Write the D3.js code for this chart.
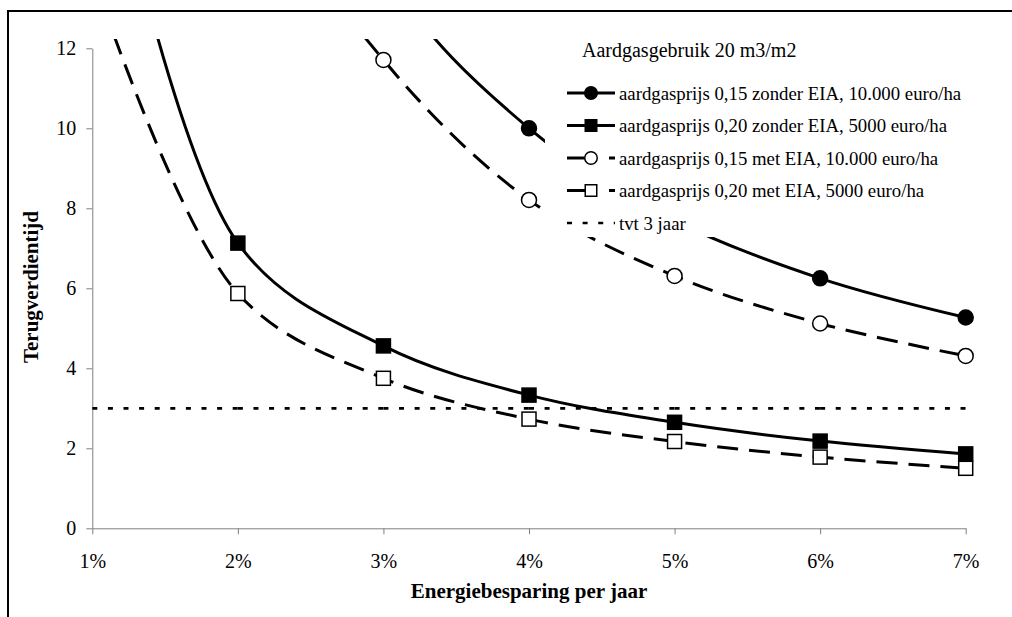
<!DOCTYPE html>
<html>
<head>
<meta charset="utf-8">
<script src="https://cdnjs.cloudflare.com/ajax/libs/d3/7.8.5/d3.min.js"></script>
<style>
body{margin:0;background:#fff;}
svg{display:block;}
svg text{font-family:"Liberation Serif","Times New Roman",serif;}
</style>
</head>
<body>
<div id="chart"></div>
<script>
// gegevens
var categories = ["1%","2%","3%","4%","5%","6%","7%"];
var yTicks = [0,2,4,6,8,10,12];
var gas015zonder = [60, 24, 14.0, 10.0, 7.7, 6.25, 5.27];
var gas020zonder = [19.0, 7.13, 4.56, 3.33, 2.65, 2.18, 1.86];
var gas015met = [30, 17.2, 11.71, 8.21, 6.31, 5.12, 4.31];
var gas020met = [13.85, 5.87, 3.75, 2.73, 2.17, 1.78, 1.50];
var tvt3 = [3, 3, 3, 3, 3, 3, 3];
var legendTitle = "Aardgasgebruik 20 m3/m2";
var seriesNames = [
  "aardgasprijs 0,15 zonder EIA, 10.000 euro/ha",
  "aardgasprijs 0,20 zonder EIA, 5000 euro/ha",
  "aardgasprijs 0,15 met EIA, 10.000 euro/ha",
  "aardgasprijs 0,20 met EIA, 5000 euro/ha",
  "tvt 3 jaar"
];

var width = 1012, height = 617;
var margin = {top: 48.3, right: 46.3, bottom: 88.7, left: 92.3};
var serif = "'Liberation Serif', 'Times New Roman', serif";

var series = [
  {values: gas015zonder, name: seriesNames[0], dash: null, marker: "circle", filled: true},
  {values: gas020zonder, name: seriesNames[1], dash: null, marker: "square", filled: true},
  {values: gas015met, name: seriesNames[2], dash: "21,11", marker: "circle", filled: false},
  {values: gas020met, name: seriesNames[3], dash: "21,11", marker: "square", filled: false}
];

var svg = d3.select("#chart").append("svg")
    .attr("width", width)
    .attr("height", height);

// kader
svg.append("rect")
    .attr("x", 8).attr("y", 11)
    .attr("width", 1100).attr("height", 700)
    .attr("fill", "none")
    .attr("stroke", "#000")
    .attr("stroke-width", 2);

var xScale = d3.scalePoint()
    .domain(categories)
    .range([margin.left, width - margin.right]);

var yScale = d3.scaleLinear()
    .domain([0, 12])
    .range([height - margin.bottom, margin.top]);

// assen
var yAxis = d3.axisLeft(yScale).tickValues(yTicks).tickSize(6).tickSizeOuter(0).tickPadding(10);
var xAxis = d3.axisBottom(xScale).tickSize(6).tickSizeOuter(0).tickPadding(19.5);

var gy = svg.append("g")
    .attr("transform", "translate(" + margin.left + ",0)")
    .call(yAxis);
var gx = svg.append("g")
    .attr("transform", "translate(0," + (height - margin.bottom) + ")")
    .call(xAxis);

[gx, gy].forEach(function(g){
  g.attr("font-family", serif).attr("font-size", 20);
  g.select(".domain").attr("stroke", "#808080");
  g.selectAll(".tick line").attr("stroke", "#808080");
  g.selectAll(".tick text").attr("fill", "#000");
});

svg.append("text")
    .attr("transform", "translate(38," + 287 + ") rotate(-90)")
    .attr("text-anchor", "middle")
    .attr("font-size", 21)
    .attr("font-weight", "bold")
    .text("Terugverdientijd");

svg.append("text")
    .attr("x", (margin.left + width - margin.right) / 2)
    .attr("y", 598)
    .attr("text-anchor", "middle")
    .attr("font-size", 21)
    .attr("font-weight", "bold")
    .text("Energiebesparing per jaar");

// lijnen
svg.append("clipPath").attr("id", "plotclip")
  .append("rect")
    .attr("x", margin.left).attr("y", 39)
    .attr("width", width - margin.left).attr("height", height - margin.bottom - 39);

var line = d3.line()
    .x(function(d, i){ return xScale(categories[i]); })
    .y(function(d){ return yScale(d); })
    .curve(d3.curveCatmullRom.alpha(0.5));

var plot = svg.append("g").attr("clip-path", "url(#plotclip)");

series.forEach(function(s){
  plot.append("path")
    .datum(s.values)
    .attr("d", line)
    .attr("fill", "none")
    .attr("stroke", "#000")
    .attr("stroke-width", 3)
    .attr("stroke-dasharray", s.dash);
});

// tvt 3 jaar, per segment gestippeld
d3.pairs(tvt3.map(function(d, i){ return [xScale(categories[i]), yScale(d)]; }))
  .forEach(function(p){
    svg.append("line")
      .attr("x1", p[0][0]).attr("y1", p[0][1])
      .attr("x2", p[1][0]).attr("y2", p[1][1])
      .attr("stroke", "#000")
      .attr("stroke-width", 2.7)
      .attr("stroke-dasharray", "5,10.6");
  });

function drawMarker(g, type, filled, cx, cy, size){
  if(type === "circle"){
    g.append("circle")
      .attr("cx", cx).attr("cy", cy).attr("r", size / 2)
      .attr("fill", filled ? "#000" : "#fff")
      .attr("stroke", "#000").attr("stroke-width", 1.5);
  }else{
    g.append("rect")
      .attr("x", cx - size / 2).attr("y", cy - size / 2)
      .attr("width", size).attr("height", size)
      .attr("fill", filled ? "#000" : "#fff")
      .attr("stroke", "#000").attr("stroke-width", 1.5);
  }
}

var markers = svg.append("g");
series.forEach(function(s){
  s.values.forEach(function(v, i){
    if(v > yScale.domain()[1]) return;
    drawMarker(markers, s.marker, s.filled, xScale(categories[i]), yScale(v), s.marker === "circle" ? 15 : 14);
  });
});

// legenda
var legend = svg.append("g");
legend.append("rect")
    .attr("x", 545).attr("y", 28)
    .attr("width", 425).attr("height", 209)
    .attr("fill", "#fff");

legend.append("text")
    .attr("x", 582).attr("y", 56.5)
    .attr("font-size", 20)
    .text(legendTitle);

var rowY = d3.range(5).map(function(i){ return 93 + i * 32.5; });

series.forEach(function(s, i){
  legend.append("line")
    .attr("x1", 567).attr("x2", 615)
    .attr("y1", rowY[i]).attr("y2", rowY[i])
    .attr("stroke", "#000").attr("stroke-width", 3)
    .attr("stroke-dasharray", s.dash ? "22,20" : null);
  drawMarker(legend, s.marker, s.filled, 591, rowY[i], s.marker === "circle" ? 12.5 : 11.5);
});
legend.append("line")
    .attr("x1", 567).attr("x2", 615)
    .attr("y1", rowY[4]).attr("y2", rowY[4])
    .attr("stroke", "#000").attr("stroke-width", 2.7)
    .attr("stroke-dasharray", "5,10.6");

legend.selectAll(".ltext")
  .data(seriesNames)
  .enter().append("text")
    .attr("class", "ltext")
    .attr("x", 619)
    .attr("y", function(d, i){ return rowY[i]; })
    .attr("dy", "0.35em")
    .attr("font-size", 18.8)
    .text(function(d){ return d; });

svg.selectAll("text").style("font-family", serif);
</script>
</body>
</html>
